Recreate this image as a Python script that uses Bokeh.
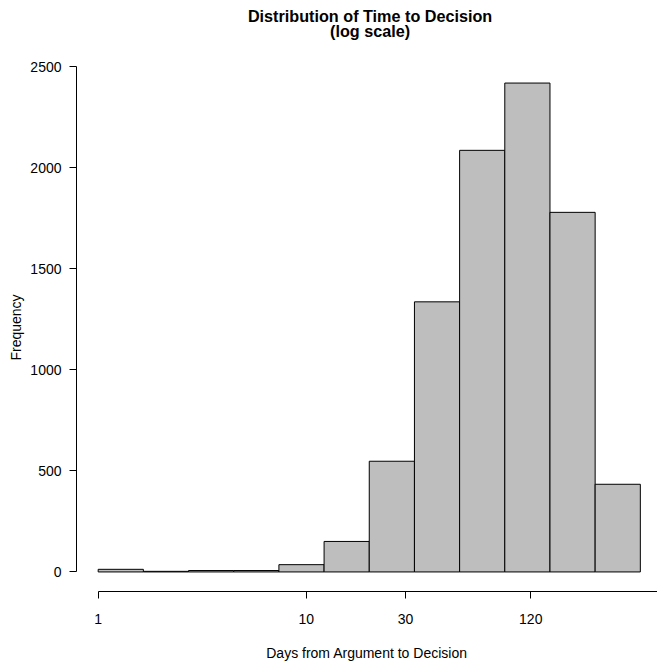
import numpy as np
from bokeh.plotting import figure
from bokeh.layouts import column
from bokeh.models import Label, FixedTicker, ColumnDataSource
from bokeh.embed import file_html
from bokeh.resources import INLINE

# Histogram of log(days): bin edges in natural-log space, counts per bin
bin_edges_log = [0.0, 0.5, 1.0, 1.5, 2.0, 2.5, 3.0, 3.5, 4.0, 4.5, 5.0, 5.5, 6.0]
counts = [13, 3, 7, 7, 36, 151, 548, 1337, 2087, 2420, 1780, 434]

# Axis ticks
x_tick_days = [1, 10, 30, 120]
y_ticks = [0, 500, 1000, 1500, 2000, 2500]

title_line1 = "Distribution of Time to Decision"
title_line2 = "(log scale)"
x_label = "Days from Argument to Decision"
y_label = "Frequency"

FONT = "Liberation Sans"

W = 657
TITLE_H = 45
BT = 18                  # top border of the histogram figure
MAIN_H = 663 - TITLE_H
BL, BB = 76, 68

# ---- title strip ----
pt = figure(width=W, height=TITLE_H, x_range=(0, W), y_range=(TITLE_H, 0),
            output_backend="svg", toolbar_location=None, title=None,
            x_axis_location=None, y_axis_location=None,
            min_border=0, min_border_left=0, min_border_right=0,
            min_border_top=0, min_border_bottom=0)
pt.grid.visible = False
pt.outline_line_color = None
pt.background_fill_color = "white"
pt.border_fill_color = "white"
title_cx = 332
for txt, ty in ((title_line1, 15.6), (title_line2, 30.8)):
    pt.add_layout(Label(x=title_cx, y=ty, text=txt, text_align="center",
                        text_baseline="middle", text_font=FONT,
                        text_font_size="16.2px", text_font_style="bold",
                        text_color="black"))

# ---- histogram ----
src = ColumnDataSource(dict(
    left=bin_edges_log[:-1],
    right=bin_edges_log[1:],
    top=counts,
    bottom=[0] * len(counts),
))

xmin, xmax = bin_edges_log[0], bin_edges_log[-1]
xpad = 0.04 * (xmax - xmin)
ymax = max(counts)
ypad = 0.04 * ymax

p = figure(width=W, height=MAIN_H,
           x_range=(xmin - xpad, 6.19),
           y_range=(-ypad, ymax + ypad),
           output_backend="svg", toolbar_location=None,
           min_border_left=BL, min_border_right=0,
           min_border_top=BT, min_border_bottom=BB,
           title=None)

p.quad(left="left", right="right", top="top", bottom="bottom", source=src,
       fill_color="#BEBEBE", line_color="black", line_width=1)

p.xgrid.visible = False
p.ygrid.visible = False
p.outline_line_color = None
p.background_fill_color = "white"
p.border_fill_color = "white"

xpos = list(np.log(np.array(x_tick_days, dtype=float)))
p.xaxis.ticker = FixedTicker(ticks=xpos)
p.xaxis.major_label_overrides = {float(v): str(d) for v, d in zip(xpos, x_tick_days)}
p.xaxis.bounds = (0, 10)
p.yaxis.ticker = FixedTicker(ticks=y_ticks)
p.yaxis.bounds = (0, 2500)

for ax in (p.xaxis[0], p.yaxis[0]):
    ax.axis_line_color = "black"
    ax.axis_line_width = 1
    ax.major_tick_line_color = "black"
    ax.major_tick_out = 7
    ax.major_tick_in = 0
    ax.minor_tick_line_color = None
    ax.major_label_text_font = FONT
    ax.major_label_text_font_size = "14px"
    ax.major_label_text_color = "black"
    ax.axis_label_text_font = FONT
    ax.axis_label_text_font_size = "14px"
    ax.axis_label_text_font_style = "normal"
    ax.axis_label_text_color = "black"

p.xaxis.axis_label = x_label
p.yaxis.axis_label = y_label
p.xaxis.major_label_standoff = 15
p.xaxis.axis_label_standoff = 18
p.yaxis.major_label_standoff = 8
p.yaxis.axis_label_standoff = 3
p.yaxis.major_label_orientation = "horizontal"

layout = column(pt, p, spacing=0)
open("out.html", "w").write(file_html(layout, INLINE))
